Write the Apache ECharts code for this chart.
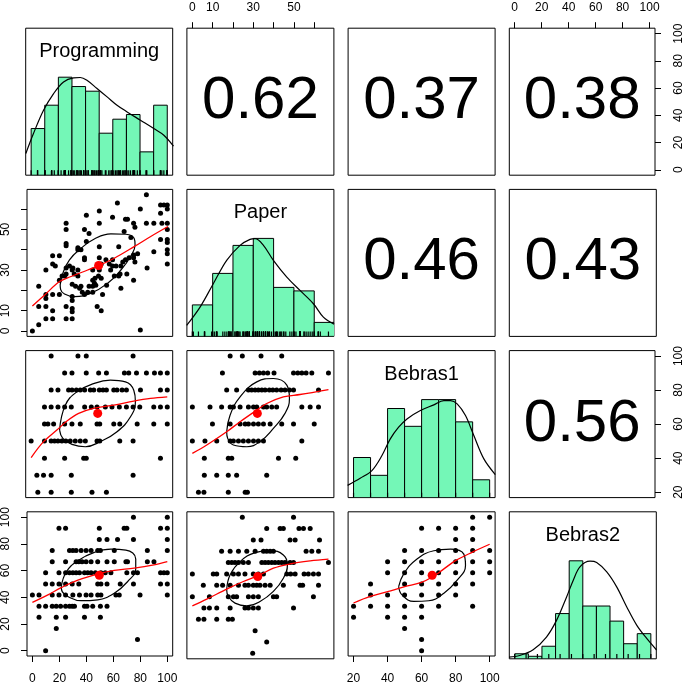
<!DOCTYPE html>
<html><head><meta charset="utf-8">
<script src="https://cdn.jsdelivr.net/npm/echarts@6/dist/echarts.min.js"></script>
<style>html,body{margin:0;padding:0;background:#fff;}#c{width:685px;height:685px;}</style>
</head><body><div id="c"></div>
<script>
// ---------- variables ----------
const varNames = ['Programming', 'Paper', 'Bebras1', 'Bebras2'];
const varRanges = [[-4, 104], [-2.68, 69.68], [16.8, 103.2], [-4, 104]];

// ---------- correlations (upper panels) ----------
const corrPairs = [[0, 1], [0, 2], [0, 3], [1, 2], [1, 3], [2, 3]];
const corrLabels = ['0.62', '0.37', '0.38', '0.46', '0.43', '0.56'];

// ---------- tick values ----------
const progTicks = [0, 20, 40, 60, 80, 100];
const paperTicks = [0, 10, 20, 30, 40, 50, 60];
const paperTickLabels = [0, 10, 30, 50];
const bebras1Ticks = [20, 40, 60, 80, 100];
const bebras2Ticks = [0, 20, 40, 60, 80, 100];

// ---------- histograms (bin edges and counts) ----------
const progBins = [0, 10, 20, 30, 40, 50, 60, 70, 80, 90, 100];
const progCounts = [10, 15, 21, 19, 18, 9, 12, 13, 5, 15];
const paperBins = [0, 10, 20, 30, 40, 50, 60, 70];
const paperCounts = [9, 18, 26, 28, 14, 13, 4];
const bebras1Bins = [20, 30, 40, 50, 60, 70, 80, 90, 100];
const bebras1Counts = [9, 5, 20, 16, 22, 22, 17, 4];
const bebras2Bins = [0, 10, 20, 30, 40, 50, 60, 70, 80, 90, 100];
const bebras2Counts = [2, 1, 5, 18, 39, 21, 21, 15, 6, 10];

// ---------- density curves (value, relative density) ----------
const progDensity = [[-3.9,0.221],[1.7,0.425],[9.1,0.663],[16.5,0.833],[23.8,0.952],[31.2,0.993],[36.1,0.997],[41.0,0.969],[48.4,0.884],[55.8,0.799],[63.1,0.714],[70.5,0.646],[80.3,0.561],[90.1,0.476],[97.5,0.408],[104.6,0.296]];
const paperDensity = [[-2.8,0.112],[3.8,0.299],[10.3,0.537],[16.9,0.776],[23.5,0.929],[28.4,0.990],[30.9,0.997],[35.0,0.929],[39.9,0.776],[46.5,0.605],[53.0,0.469],[59.6,0.333],[64.5,0.197],[69.8,0.125]];
const bebras1Density = [[16.5,0.125],[23.9,0.197],[30.8,0.276],[36.7,0.429],[41.6,0.599],[46.5,0.718],[51.4,0.803],[59.3,0.888],[67.2,0.946],[73.1,0.990],[77.0,0.990],[80.9,0.956],[85.8,0.837],[90.7,0.633],[96.6,0.395],[103.3,0.235]];
const bebras2Density = [[-4.2,0.017],[3.7,0.034],[13.5,0.092],[23.3,0.222],[30.7,0.392],[38.1,0.631],[43.0,0.802],[47.9,0.938],[55.3,0.996],[60.2,0.983],[67.6,0.887],[74.9,0.734],[82.3,0.529],[89.7,0.341],[97.1,0.205],[104.2,0.09]];

// ---------- scatter points ----------
// Programming (x) vs Paper (y)
const p21 = [[0,0],[4.7,3],[4.7,22],[4.7,12],[10,18],[10,16],[10,12],[10,6],[10,30],[15,37],[15,33],[15,18],[15,10],[15,6],[20,37],[20,18],[17,32],[20,25],[25,53],[25,50],[25,43],[25,42],[25,31],[25,28],[25,12],[25,6],[29.5,30],[29.5,23],[29.5,17],[29.5,15],[29.5,11],[29.5,9.5],[29.5,6],[33.7,41],[33.7,40],[33.7,30],[33.7,27],[35,21],[38.6,50],[38.6,36],[38.6,35],[38.6,18],[40,57],[40,44],[42,48],[44.7,30],[44.7,25],[44.7,19],[44.7,22],[49.6,59],[49.6,53],[49.6,41.5],[49.6,36],[49.6,30],[49,27],[48,12],[51,10],[47,22.5],[52,18],[54.5,35],[55,22.5],[59.4,56],[59.4,35],[59.4,32],[60.7,27],[63,63],[64,41.5],[65,28],[65.6,21],[68,49],[69,55],[69,35],[70,28],[64,27],[70.5,55],[75,53],[75,37.4],[75,36],[75,25],[76,51],[76,34],[78,38],[80,60],[80,0.5],[84.5,67],[84.5,53],[85,31],[90,53],[90,39],[95,62],[95,58],[95,45],[96,53],[97.5,62],[100,62],[100,60],[100,53],[100,50],[100,45],[100,43.5],[100,40],[100,38],[100,33],[24,27],[22,27],[27.5,32],[30,31],[31,28],[32,22],[36,22],[37,19],[41,19],[42,22],[46,23.5],[46.4,26],[51,26],[51,33],[57,33],[58,30],[62,32],[65.6,32],[67,34],[71.7,36],[73,46],[36,40]];
// Programming (x) vs Bebras1 (y)
const p31 = [[14.7,100],[34.4,100],[40.5,100],[74.9,100],
[24.6,90],[30,90],[40.5,90],[49.6,90],[55.3,90],[68.5,90],[71.7,90],[77.4,90],[84.7,90],[90.6,90],[95,90],[100,90],
[14.7,80],[19.7,80],[27.5,80],[30,80],[33.2,80],[36.1,80],[39.3,80],[43.5,80],[46,80],[50.1,80],[52.8,80],[55.3,80],[60.7,80],[63.1,80],[66.8,80],[70,80],[80.3,80],[95,80],[100,80],
[9.8,70],[14.7,70],[19.7,70],[24.6,70],[29.5,70],[39.3,70],[44.2,70],[48.4,70],[54.5,70],[59.4,70],[64.8,70],[70,70],[74.9,70],[79.8,70],[90.1,70],[95,70],[100,70],
[9.8,60],[12.3,60],[16.5,60],[24.6,60],[30,60],[36.1,60],[48.4,60],[50.4,60],[60.7,60],[65.1,60],[77.9,60],[90.1,60],[100,60],
[0,50],[9.8,50],[14.7,50],[17.2,50],[19.7,50],[22.6,50],[25.5,50],[28.7,50],[32.4,50],[36.1,50],[39.8,50],[48.4,50],[50.4,50],[65.1,50],[74.9,50],
[9.8,40],[24.6,40],[38.6,40],[40.5,40],[95,40],
[4.2,30],[9.1,30],[14.7,30],[29.5,30],[74.9,30],
[4.9,20],[14.7,20],[29.5,20],[44.7,20],[55.3,20]];
// Paper (x) vs Bebras1 (y)
const p32 = [[18.6,100],[24.6,100],[33.8,100],[44.0,100],
[14.8,90],[30.9,90],[33.0,90],[35.0,90],[37.1,90],[40.2,90],[49.8,90],[51.9,90],[53.9,90],[56.0,90],[58.8,90],[67.0,90],
[16.9,80],[21.8,80],[27.6,80],[29.2,80],[30.9,80],[32.5,80],[34.2,80],[35.8,80],[37.9,80],[39.6,80],[41.5,80],[43.7,80],[45.6,80],[47.8,80],[49.8,80],[62.1,80],
[0,70],[8.7,70],[14.4,70],[18.6,70],[20.2,70],[23.5,70],[27.6,70],[30.1,70],[31.7,70],[35.0,70],[36.6,70],[39.1,70],[41.5,70],[53.9,70],[58.0,70],[62.1,70],
[9.9,60],[18.6,60],[23.5,60],[26.0,60],[27.6,60],[30.1,60],[32.5,60],[35.0,60],[38.3,60],[44.0,60],[49.8,60],[60.0,60],
[0,50],[6.2,50],[12.0,50],[18.6,50],[20.2,50],[22.7,50],[25.1,50],[27.6,50],[30.1,50],[32.5,50],[35.0,50],[53.9,50],
[5.9,40],[17.7,40],[19.4,40],[42.4,40],[50.9,40],
[5.9,30],[12.0,30],[17.7,30],[21.8,30],[36.6,30],
[3.0,20],[5.7,20],[17.7,20],[26.0,20],[27.1,20]];
// Programming (x) vs Bebras2 (y)
const p41 = [[74.9,100],[100,100],
[19.7,91.67],[24.6,91.67],[49.6,91.67],[68,91.67],[70,91.67],[95,91.67],[100,91.67],
[49.6,83.33],[55.3,83.33],[63.1,83.33],[74.9,83.33],[100,83.33],
[14.7,75],[27.5,75],[30,75],[32.4,75],[36.1,75],[39.8,75],[43.5,75],[48.4,75],[50.4,75],[60.7,75],[85.2,75],[100,75],
[14.7,66.67],[24.6,66.67],[32.4,66.67],[34.4,66.67],[36.8,66.67],[39.8,66.67],[43.5,66.67],[48.4,66.67],[55.3,66.67],[60.7,66.67],[69.3,66.67],[70.5,66.67],[85.2,66.67],[90.1,66.67],
[9.8,58.33],[19.7,58.33],[24.6,58.33],[27.5,58.33],[30,58.33],[32.4,58.33],[34.9,58.33],[38.6,58.33],[41,58.33],[43.5,58.33],[46.7,58.33],[50.8,58.33],[54,58.33],[58.2,58.33],[70,58.33],[74.9,58.33],[77.9,58.33],[95,58.33],[97.5,58.33],[100,58.33],
[9.8,50],[14.7,50],[19.7,50],[24.6,50],[29.5,50],[34.4,50],[48.4,50],[50.8,50],[55.3,50],[65.1,50],[74.9,50],[95,50],[100,50],
[0,41.67],[4.9,41.67],[14.7,41.67],[19.7,41.67],[24.6,41.67],[30,41.67],[34.9,41.67],[39.8,41.67],[43.5,41.67],[48.4,41.67],[50.8,41.67],[61.9,41.67],[64.4,41.67],[79.8,41.67],[100,41.67],
[4.9,33.33],[9.8,33.33],[14.7,33.33],[17.7,33.33],[20.9,33.33],[24.6,33.33],[27.5,33.33],[29.5,33.33],[31.2,33.33],[38.6,33.33],[40.5,33.33],[44.7,33.33],[50.4,33.33],[55.3,33.33],
[4.9,25],[17.7,25],[24.6,25],[38.6,25],[50.4,25],
[17.7,16.67],[77.9,8.33],[9.8,0]];
// Paper (x) vs Bebras2 (y)
const p42 = [[24.6,100],[49.8,100],
[36.6,91.67],[43.2,91.67],[44.8,91.67],[52.5,91.67],[54.7,91.67],[58.0,91.67],
[30.0,83.33],[33.8,83.33],[48.1,83.33],[50.6,83.33],[62.6,83.33],
[14.4,75],[18.6,75],[22.7,75],[26.8,75],[30.9,75],[35.0,75],[36.6,75],[38.3,75],[39.9,75],[56.0,75],[58.8,75],[62.1,75],
[17.7,66.67],[19.4,66.67],[21.0,66.67],[22.7,66.67],[25.1,66.67],[27.6,66.67],[34.2,66.67],[35.8,66.67],[37.4,66.67],[39.1,66.67],[40.7,66.67],[42.4,66.67],[44.0,66.67],[45.6,66.67],[48.1,66.67],[49.8,66.67],[67.0,66.67],
[0,58.33],[10.3,58.33],[12.0,58.33],[16.9,58.33],[20.2,58.33],[22.7,58.33],[25.9,58.33],[30.0,58.33],[32.5,58.33],[35.0,58.33],[46.5,58.33],[48.4,58.33],[50.6,58.33],[55.0,58.33],[57.1,58.33],[59.6,58.33],[62.1,58.33],
[5.4,50],[12.0,50],[14.9,50],[18.6,50],[22.7,50],[25.9,50],[27.6,50],[30.0,50],[31.7,50],[33.3,50],[35.8,50],[38.3,50],[44.8,50],[53.0,50],[54.3,50],[62.1,50],
[0,41.67],[8.4,41.67],[17.7,41.67],[20.2,41.67],[21.8,41.67],[27.6,41.67],[30.0,41.67],[32.5,41.67],[39.9,41.67],[41.5,41.67],[59.6,41.67],
[5.7,33.33],[8.4,33.33],[12.0,33.33],[18.6,33.33],[25.9,33.33],[27.6,33.33],[30.0,33.33],[32.5,33.33],[49.8,33.33],
[3.0,25],[5.7,25],[12.0,25],[17.7,25],[19.7,25],
[30.9,16.67],[36.6,8.33],[29.7,0]];
// Bebras1 (x) vs Bebras2 (y)
const p43 = [[90,100],[100,100],
[60,91.67],[70,91.67],[80,91.67],[90,91.67],
[80,83.33],[90,83.33],
[50,75],[60,75],[70,75],[80,75],[90,75],[100,75],
[40,66.67],[50,66.67],[60,66.67],[70,66.67],[80,66.67],[90,66.67],[100,66.67],
[40,58.33],[50,58.33],[60,58.33],[70,58.33],[80,58.33],[90,58.33],[100,58.33],
[30,50],[50,50],[60,50],[70,50],[80,50],[90,50],
[30,41.67],[40,41.67],[50,41.67],[60,41.67],[70,41.67],[80,41.67],
[20,33.33],[30,33.33],[40,33.33],[50,33.33],[60,33.33],[70,33.33],[90,33.33],
[20,25],[40,25],[50,25],[60,25],
[50,16.67],[60,8.33],[60,0]];

// ---------- means ----------
const mean21 = [49.1, 32.2], mean31 = [48.9, 66.3], mean32 = [32.0, 66.3];
const mean41 = [49.6, 56.5], mean42 = [32.2, 56.5], mean43 = [66.2, 56.5];

// ---------- correlation ellipses (outline points) ----------
const ell21 = [[20.6,22.7],[22.6,28.4],[27.5,35.0],[36.1,40.7],[45.9,45.3],[58.2,47.8],[69.3,47.6],[75.4,45.6],[76.1,42.4],[73.0,36.9],[65.6,30.0],[55.8,23.5],[43.5,18.6],[31.2,16.9],[23.8,18.2],[20.9,20.5],[20.6,22.7]];
const ell31 = [[20.9,56.5],[25.1,71.1],[33.7,79.0],[45.9,83.8],[58.2,85.8],[69.3,84.8],[75.4,79.9],[76.6,73.1],[73.0,64.3],[63.1,55.5],[50.8,49.7],[39.8,46.7],[30.0,48.1],[23.3,51.6],[20.9,56.5]];
const ell32 = [[16.9,55.5],[18.6,65.3],[23.5,76.0],[31.7,84.8],[39.9,86.8],[46.5,82.9],[47.8,75.1],[45.6,66.3],[39.9,57.5],[33.3,49.7],[26.8,46.7],[20.2,47.7],[17.4,51.6],[16.9,55.5]];
const ell41 = [[21.4,47.9],[25.1,58.9],[33.7,67.4],[45.9,73.6],[58.2,76.0],[69.3,75.3],[76.6,68.7],[76.6,61.3],[70.5,51.6],[60.7,43.0],[48.4,38.1],[36.1,37.4],[26.3,40.6],[22.1,44.2],[21.4,47.9]];
const ell42 = [[16.9,46.7],[18.6,57.7],[23.5,67.4],[30.9,74.0],[38.3,75.5],[44.8,72.3],[46.8,65.0],[44.8,55.2],[39.9,45.5],[33.3,38.1],[26.8,34.9],[21.0,36.9],[17.7,41.8],[16.9,46.7]];
const ell43 = [[46.5,47.9],[49.5,57.5],[57.3,68.6],[67.2,74.8],[77.0,76.0],[84.8,72.3],[85.8,63.8],[80.9,52.8],[73.1,43.0],[64.2,37.4],[55.4,36.9],[48.5,41.8],[46.5,47.9]];

// ---------- loess smooths ----------
const fit21 = [[0,12.3],[9.1,17.7],[20.1,24.3],[28.7,26.8],[41.0,30.0],[49.1,32.2],[60.7,35.8],[75.4,41.5],[87.7,46.5],[100.5,51.4]];
const fit31 = [[0,40.3],[9.1,49.7],[18.9,56.5],[26.3,61.8],[34.9,66.3],[45.9,69.2],[60.7,71.1],[75.4,73.5],[87.7,75.1],[100,76.0]];
const fit32 = [[0,42.8],[7.1,47.7],[16.9,55.5],[23.5,61.4],[31.7,68.2],[36.6,72.1],[44.8,76.0],[53.0,77.4],[67.0,80.3]];
const fit41 = [[0,36.2],[11.5,41.8],[21.4,47.2],[33.7,52.8],[49.6,57.7],[60.7,60.1],[75.4,61.8],[90.1,64.3],[100,66.7]];
const fit42 = [[0,34.9],[7.1,39.8],[16.9,47.2],[25.1,52.8],[32.2,56.9],[39.9,62.6],[48.1,65.7],[58.0,67.9],[67.0,69.2]];
const fit43 = [[20,35.7],[29.8,40.6],[40,44.2],[50.1,47.9],[59.9,51.1],[66.2,55.2],[70.1,58.4],[79.9,67.4],[90.2,74.0],[100,79.7]];

// ---------- rugs ----------
const progRug = p21.map(d => d[0]);
const paperRug = p21.map(d => d[1]);
const bebras1Rug = [20, 30, 40, 50, 60, 70, 80, 90, 100];
const bebras2Rug = [0, 8.33, 16.67, 25, 33.33, 41.67, 50, 58.33, 66.67, 75, 83.33, 91.67, 100];

// ---------- layout / style ----------
const FONT = '"Liberation Sans", Arial, Helvetica, sans-serif';
const HIST_COLOR = '#74F7B7';
const LEFT0 = 25.7, TOP0 = 28.2, PITCH = 161.2, SIZE = 147;

const grids = [], xAxes = [], yAxes = [], series = [];
const mid = r => (r[0] + r[1]) / 2;

function baseAxis(k, range) {
  return {type: 'value', gridIndex: k, min: range[0], max: range[1],
    axisLine: {show: false, onZero: false}, splitLine: {show: false},
    axisTick: {show: false}, axisLabel: {show: false}};
}
function addTicks(ax, position, ticks, labels, margin, rotate) {
  ax.position = position;
  ax.axisTick = {show: true, customValues: ticks, length: 6, inside: false, lineStyle: {color: '#000', width: 1}};
  ax.axisLabel = {show: true, customValues: labels, margin: margin, rotate: rotate || 0,
    color: '#000', fontSize: 12, fontFamily: FONT};
}

for (let i = 0; i < 4; i++) {
  for (let j = 0; j < 4; j++) {
    const k = i * 4 + j;
    grids.push({left: LEFT0 + j * PITCH, top: TOP0 + i * PITCH, width: SIZE, height: SIZE,
      show: true, borderColor: '#000', borderWidth: 1, backgroundColor: 'transparent'});
    xAxes.push(baseAxis(k, varRanges[j]));
    yAxes.push(baseAxis(k, i === j ? [0, 1.5] : varRanges[i]));
  }
}
// outer axes
addTicks(xAxes[1], 'top', paperTicks, paperTickLabels, 15);
addTicks(xAxes[3], 'top', bebras2Ticks, bebras2Ticks, 15);
addTicks(yAxes[3], 'right', progTicks, progTicks, 18, 90);
addTicks(yAxes[4], 'left', paperTicks, paperTickLabels, 15, 90);
addTicks(yAxes[11], 'right', bebras1Ticks, bebras1Ticks, 18, 90);
addTicks(xAxes[12], 'bottom', progTicks, progTicks, 17);
addTicks(yAxes[12], 'left', bebras2Ticks, bebras2Ticks, 15, 90);
addTicks(xAxes[14], 'bottom', bebras1Ticks, bebras1Ticks, 17);

function textSeries(k, pt, text, size) {
  return {type: 'scatter', xAxisIndex: k, yAxisIndex: k, data: [pt], symbolSize: 1,
    itemStyle: {color: 'rgba(0,0,0,0)', opacity: 1}, silent: true, z: 5,
    label: {show: true, position: 'inside', formatter: text, fontSize: size,
      color: '#000', opacity: 1, fontFamily: FONT}};
}
function histSeries(k, bins, counts) {
  const mx = Math.max(...counts);
  const data = counts.map((c, n) => [bins[n], bins[n + 1], c / mx]);
  return {type: 'custom', xAxisIndex: k, yAxisIndex: k, clip: true, silent: true, z: 1,
    encode: {x: [0, 1], y: 2}, data: data,
    renderItem: (params, api) => {
      const a = api.coord([api.value(0), 0]);
      const b = api.coord([api.value(1), api.value(2)]);
      return {type: 'rect', shape: {x: a[0], y: b[1], width: b[0] - a[0], height: a[1] - b[1]},
        style: {fill: HIST_COLOR, stroke: '#000', lineWidth: 1}};
    }};
}
function rugSeries(k, vals) {
  return {type: 'custom', xAxisIndex: k, yAxisIndex: k, clip: true, silent: true, z: 3,
    encode: {x: 0}, data: vals.map(v => [v]),
    renderItem: (params, api) => {
      const a = api.coord([api.value(0), 0]);
      const b = api.coord([api.value(0), 0.05]);
      return {type: 'line', shape: {x1: a[0], y1: a[1], x2: b[0], y2: b[1]},
        style: {stroke: '#000', lineWidth: 1.2}};
    }};
}
function lineSeries(k, data, color, width, smooth, z) {
  return {type: 'line', xAxisIndex: k, yAxisIndex: k, data: data, symbol: 'none', showSymbol: false,
    smooth: smooth, clip: true, silent: true, z: z || 3,
    lineStyle: {color: color, width: width, opacity: 1}};
}
function pointSeries(k, data, color, size, z) {
  return {type: 'scatter', xAxisIndex: k, yAxisIndex: k, data: data, symbol: 'circle',
    symbolSize: size, itemStyle: {color: color, opacity: 1}, silent: true, z: z || 2};
}

// diagonal panels
const hists = [[progBins, progCounts, progDensity, progRug],
               [paperBins, paperCounts, paperDensity, paperRug],
               [bebras1Bins, bebras1Counts, bebras1Density, bebras1Rug],
               [bebras2Bins, bebras2Counts, bebras2Density, bebras2Rug]];
hists.forEach((h, i) => {
  const k = i * 5;
  series.push(histSeries(k, h[0], h[1]));
  series.push(lineSeries(k, h[2], '#000', 1.2, 0.35, 4));
  series.push(rugSeries(k, h[3]));
  series.push(textSeries(k, [mid(varRanges[i]), 1.26], varNames[i], 20));
});

// upper panels
corrPairs.forEach((p, n) => {
  const k = p[0] * 4 + p[1];
  series.push(textSeries(k, [mid(varRanges[p[1]]), mid(varRanges[p[0]])], corrLabels[n], 60));
});

// lower panels
const lower = [[4, p21, mean21, ell21, fit21], [8, p31, mean31, ell31, fit31], [9, p32, mean32, ell32, fit32],
               [12, p41, mean41, ell41, fit41], [13, p42, mean42, ell42, fit42], [14, p43, mean43, ell43, fit43]];
lower.forEach(L => {
  const k = L[0];
  series.push(pointSeries(k, L[1], '#000', 5, 2));
  series.push(lineSeries(k, L[3], '#000', 1.2, 0.45, 3));
  series.push(lineSeries(k, L[4], '#FF0000', 1.3, 0.35, 4));
  series.push(pointSeries(k, [L[2]], '#FF0000', 9, 5));
});

const chart = echarts.init(document.getElementById('c'), null, {renderer: 'canvas'});
chart.setOption({
  animation: false,
  backgroundColor: '#fff',
  textStyle: {fontFamily: FONT},
  grid: grids, xAxis: xAxes, yAxis: yAxes, series: series
});
</script></body></html>
